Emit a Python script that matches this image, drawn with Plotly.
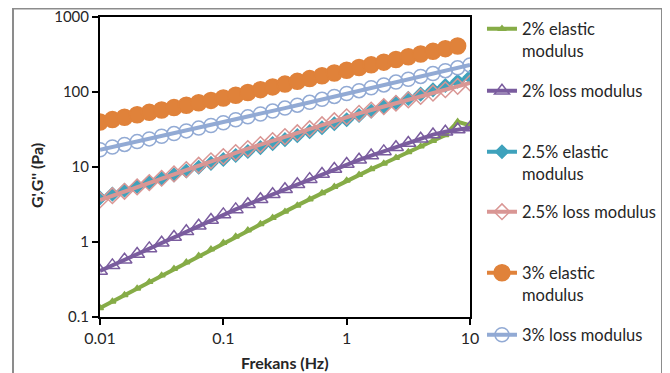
import plotly.graph_objects as go

# Frequencies (Hz), 10 points per decade
freq = [0.01, 0.0126, 0.0158, 0.02, 0.0251, 0.0316, 0.0398, 0.0501, 0.0631, 0.0794,
        0.1, 0.126, 0.158, 0.2, 0.251, 0.316, 0.398, 0.501, 0.631, 0.794,
        1, 1.26, 1.58, 2, 2.51, 3.16, 3.98, 5.01, 6.31, 7.94, 10]
freq_short = freq[:30]

g2_elastic = [0.132, 0.161, 0.197, 0.240, 0.294, 0.359, 0.439, 0.536, 0.655, 0.800,
              0.977, 1.183, 1.432, 1.734, 2.099, 2.541, 3.076, 3.724, 4.508, 5.458,
              6.607, 7.87, 9.37, 11.15, 13.28, 15.81, 18.84, 22.42, 26.72, 40.0, 36.0]
g2_loss = [0.410, 0.488, 0.581, 0.690, 0.822, 0.977, 1.164, 1.387, 1.648, 1.963,
           2.333, 2.72, 3.18, 3.72, 4.33, 5.06, 5.90, 6.89, 8.05, 9.39,
           10.96, 12.47, 14.19, 16.14, 18.37, 20.89, 23.77, 27.04, 29.51, 31.62, 33.50]
g25_elastic = [3.86, 4.35, 4.90, 5.51, 6.19, 6.98, 7.85, 8.83, 9.93, 11.19,
               12.59, 14.22, 16.07, 18.16, 20.51, 23.17, 26.18, 29.58, 33.42, 37.76,
               42.66, 48.64, 55.46, 63.24, 72.11, 82.22, 93.76, 106.9, 121.9, 139.0, 158.5]
g25_loss = [3.63, 4.15, 4.74, 5.42, 6.19, 7.08, 8.09, 9.25, 10.57, 12.08,
            13.80, 15.60, 17.62, 19.91, 22.49, 25.41, 28.71, 32.43, 36.64, 41.40,
            46.77, 51.88, 57.54, 63.83, 70.79, 78.52, 87.10, 96.61, 107.2, 118.9, 131.8]
g3_elastic = [39.8, 42.9, 46.1, 49.7, 53.5, 57.5, 61.9, 66.7, 71.8, 77.3,
              83.2, 90.6, 98.6, 107.4, 117.0, 127.4, 138.7, 151.0, 164.4, 179.1,
              195.0, 211.8, 230.1, 250.0, 271.6, 295.1, 320.6, 348.3, 378.4, 411.1]
g3_loss = [17.0, 18.5, 20.0, 21.8, 23.7, 25.7, 27.9, 30.3, 33.0, 35.8,
           38.9, 42.6, 46.6, 50.9, 55.7, 61.0, 66.7, 72.9, 79.8, 87.3,
           95.5, 104.2, 113.8, 124.2, 135.5, 147.9, 161.4, 176.2, 192.3, 209.9, 229.1]

series_names = ["2% elastic<br>modulus", "2% loss modulus", "2.5% elastic<br>modulus",
                "2.5% loss modulus", "3% elastic<br>modulus", "3% loss modulus"]
x_tickvals = [0.01, 0.1, 1, 10]
x_ticktext = ["0.01", "0.1", "1", "10"]
y_tickvals = [0.1, 1, 10, 100, 1000]
y_ticktext = ["0.1", "1", "10", "100", "1000"]

FONT = "Lato"
TXT = "#262626"

styles = [
    dict(color="#86AC47", symbol="triangle-up", size=6),
    dict(color="#7A5C9E", symbol="triangle-up-open", size=13),
    dict(color="#3FA2BC", symbol="diamond", size=10),
    dict(color="#D99694", symbol="diamond-open", size=12),
    dict(color="#E0823A", symbol="circle", size=16),
    dict(color="#92AAD4", symbol="circle-open", size=14),
]
xs = [freq, freq, freq, freq, freq_short, freq]
ys = [g2_elastic, g2_loss, g25_elastic, g25_loss, g3_elastic, g3_loss]
legend_ids = ["legend", "legend2", "legend3", "legend4", "legend5", "legend6"]
legend_y = [1.0183, 0.8117, 0.6083, 0.4083, 0.205, -0.0017]

fig = go.Figure()
for i in range(6):
    st = styles[i]
    fig.add_trace(go.Scatter(
        x=xs[i], y=ys[i], name=series_names[i], mode="lines+markers",
        line=dict(color=st["color"], width=4),
        marker=dict(symbol=st["symbol"], size=st["size"], color=st["color"],
                    line=dict(color=st["color"], width=1.5)),
        legend=legend_ids[i],
    ))

layout_legends = {}
for i in range(6):
    layout_legends[legend_ids[i]] = dict(
        x=1.0324, xanchor="left", y=legend_y[i], yanchor="top", valign="top",
        bgcolor="rgba(0,0,0,0)", borderwidth=0,
        font=dict(family=FONT, size=16.5, color=TXT),
    )

# page has an 8px body margin: figure is sized/shifted to fit the 670x373 window
fig.update_layout(
    width=662, height=365,
    margin=dict(l=92, r=200, t=9, b=56, autoexpand=False),
    paper_bgcolor="white", plot_bgcolor="white",
    showlegend=True,
    **layout_legends,
)
fig.update_xaxes(
    type="log", range=[-2, 1], tickvals=x_tickvals, ticktext=x_ticktext,
    ticks="outside", ticklen=6, tickwidth=2, tickcolor="black",
    showline=True, linecolor="black", linewidth=2, mirror=True,
    showgrid=False, zeroline=False, ticklabeloverflow="allow",
    tickfont=dict(family=FONT, size=16, color=TXT),
)
fig.update_yaxes(
    type="log", range=[-1, 3], tickvals=y_tickvals, ticktext=y_ticktext,
    ticks="outside", ticklen=6, tickwidth=2, tickcolor="black",
    showline=True, linecolor="black", linewidth=2, mirror=True,
    showgrid=False, zeroline=False, ticklabeloverflow="allow",
    tickfont=dict(family=FONT, size=15, color=TXT),
)
fig.add_annotation(text="<b>Frekans (Hz)</b>", xref="paper", yref="paper",
                   x=0.5, y=-0.15, xanchor="center", yanchor="middle", showarrow=False,
                   font=dict(family=FONT, size=16, color=TXT))
fig.add_annotation(text="<b>G',G'' (Pa)</b>", xref="paper", yref="paper",
                   x=-0.173, y=0.473, xanchor="center", yanchor="middle", showarrow=False,
                   textangle=-90, font=dict(family=FONT, size=16, color=TXT))
# outer chart border
fig.add_shape(type="rect", xref="paper", yref="paper",
              x0=-0.2351, x1=1.5189, y0=-0.25, y1=1.0283,
              line=dict(color="#8C8C8C", width=2), fillcolor="rgba(0,0,0,0)", layer="below")

fig.write_html("out.html")
